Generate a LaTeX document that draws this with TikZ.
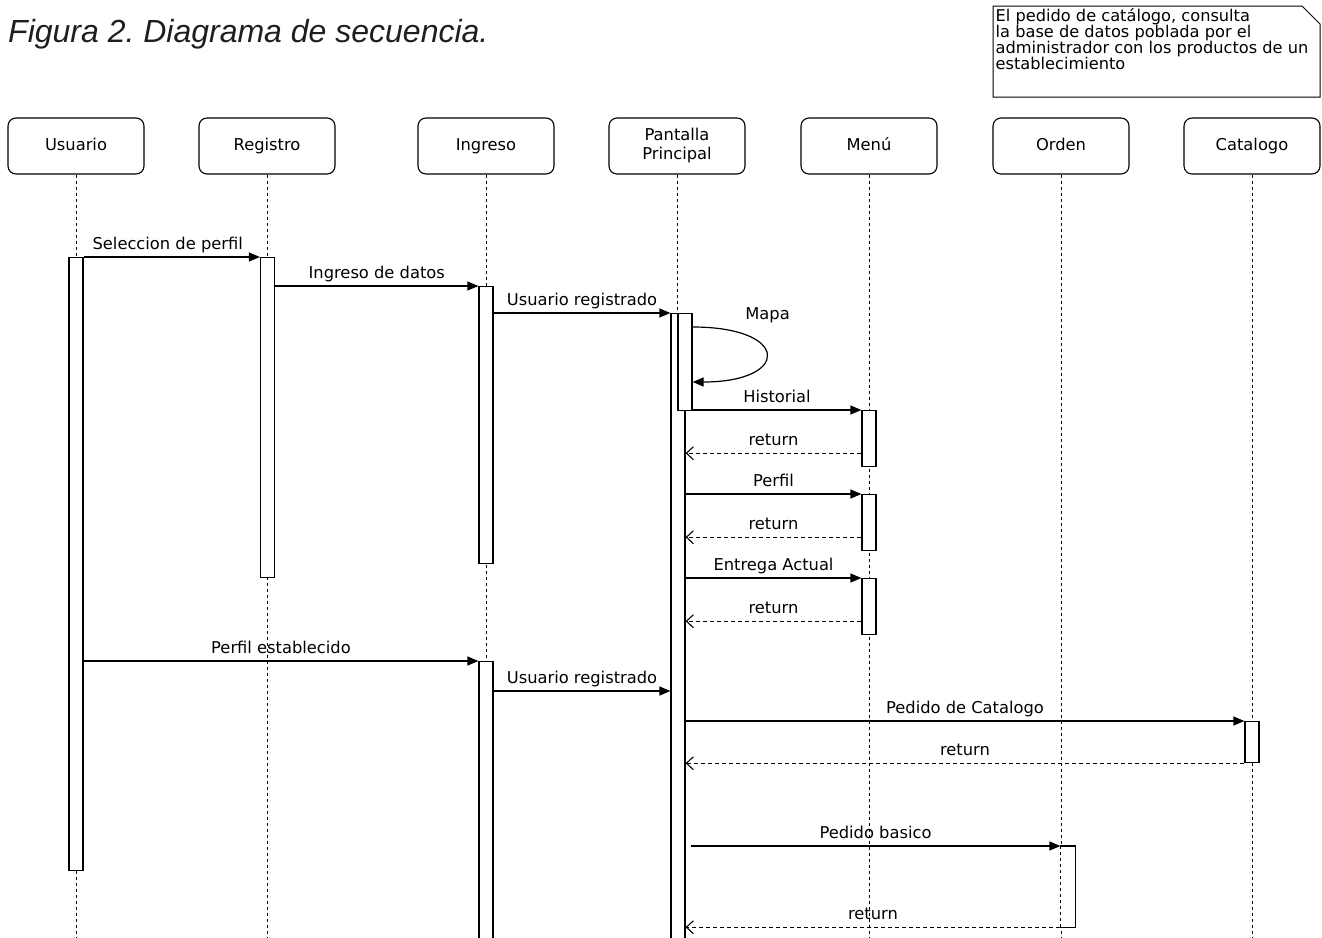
\documentclass[tikz,border=0pt]{standalone}
\usepackage{fontspec}
\setmainfont{DejaVu Sans}
\newfontfamily\titlefont{Liberation Sans}
\usetikzlibrary{arrows.meta,calc}
\frenchspacing

\begin{document}
\begin{tikzpicture}[x=1pt,y=-1pt,
  every node/.style={font=\fontsize{16.3}{19}\selectfont},
  head/.style={draw, rounded corners=8pt, minimum width=136pt, minimum height=56pt,
               line width=1.1pt, align=center, inner sep=0pt},
  onerow/.style={text height=11.5pt, text depth=3.5pt},
  life/.style={dash pattern=on 3pt off 3pt, line width=1pt},
  act/.style={draw, fill=white, minimum width=14pt, inner sep=0pt, line width=1.2pt, anchor=north},
  msg/.style={line width=1.2pt, -{Triangle[length=11pt,width=9pt]}},
  ret/.style={line width=1.1pt, dash pattern=on 4pt off 3pt,
              -{Straight Barb[length=7pt,width=13pt,line width=1.1pt]}},
  lbl/.style={midway, anchor=base, yshift=7.5pt, inner sep=0pt}
]
\useasboundingbox (0,0) rectangle (1322,937);

% title
\node[font=\titlefont\itshape\fontsize{32}{36}\selectfont, text=black!88, anchor=base west, inner sep=0pt]
  (title) at (8,42) {Figura 2. Diagrama de secuencia.};

% comment note with folded corner
\draw[line width=1pt] (993,6) -- (1302,6) -- (1320,24) -- (1320,97) -- (993,97) -- cycle;
\node[anchor=north west, inner sep=0pt, align=left, font=\fontsize{16.2}{15.8}\selectfont]
  (note) at (995.5,8.8) {El pedido de catálogo, consulta\\la base de datos poblada por el\\administrador con los productos de un\\establecimiento};

% participants
\node[head, onerow] (hU) at (76,146)   {Usuario};
\node[head, onerow] (hR) at (267,146)  {Registro};
\node[head, onerow] (hI) at (486,146)  {Ingreso};
\node[head]         (hP) at (677,146)  {Pantalla\\Principal};
\node[head, onerow] (hM) at (869,146)  {Menú};
\node[head, onerow] (hO) at (1061,146) {Orden};
\node[head, onerow] (hC) at (1252,146) {Catalogo};

% lifelines
\coordinate (bot) at (0,940);
\foreach \h in {hU,hR,hI,hP,hM,hO,hC}
  \draw[life] (\h.south) -- (\h.south |- bot);

% activation bars
\node[act, minimum height=613pt] (aU)  at (76,257)    {};
\node[act, minimum height=320pt] (aR)  at (267.5,257) {};
\node[act, minimum height=277pt] (aI1) at (486,286)   {};
\node[act, minimum height=640pt] (aP)  at (678,313)   {};
\node[act, minimum height=97pt]  (aP2) at (685,313)   {};
\node[act, minimum height=56pt]  (aM1) at (869,410)   {};
\node[act, minimum height=56pt]  (aM2) at (869,494)   {};
\node[act, minimum height=56pt]  (aM3) at (869,578)   {};
\node[act, minimum height=290pt] (aI2) at (486,661)   {};
\node[act, minimum height=41pt]  (aC)  at (1252,721)  {};
\node[act, draw=none, minimum height=80pt] (aO) at (1068,846) {};
\draw[line width=1.2pt] (aO.north west) -- (aO.north east) -- (aO.south east) -- (aO.south west);
\draw[life] (aO.north west) -- (aO.south west);

% messages
\draw[msg] (aU.east |- aR.north) -- node[lbl, xshift=-4pt] {Seleccion de perfil} (aR.north west);
\draw[msg] (aR.east |- aI1.north) -- node[lbl] {Ingreso de datos} (aI1.north west);
\draw[msg] (aI1.east |- aP.north) -- node[lbl] {Usuario registrado} (aP.north west);

\coordinate (m1) at ($(aP2.north east)+(0,14)$);
\coordinate (m2) at ($(aP2.north east)+(0,69)$);
\draw[msg] (m1) .. controls +(98,0) and +(98,0) .. (m2)
  node[pos=0, anchor=base, xshift=75pt, yshift=7.5pt, inner sep=0pt] (mapa) {Mapa};

\draw[msg] (aP2.east |- aM1.north) -- node[lbl] {Historial} (aM1.north west);
\coordinate (r1) at ($(aM1.south west)+(0,-14)$);
\draw[ret] (r1) -- node[lbl] {return} (aP.east |- r1);

\draw[msg] (aP.east |- aM2.north) -- node[lbl] {Perfil} (aM2.north west);
\coordinate (r2) at ($(aM2.south west)+(0,-14)$);
\draw[ret] (r2) -- node[lbl] {return} (aP.east |- r2);

\draw[msg] (aP.east |- aM3.north) -- node[lbl] {Entrega Actual} (aM3.north west);
\coordinate (r3) at ($(aM3.south west)+(0,-14)$);
\draw[ret] (r3) -- node[lbl] {return} (aP.east |- r3);

\draw[msg] (aU.east |- aI2.north) -- node[lbl] {Perfil establecido} (aI2.north west);
\coordinate (u2) at ($(aI2.north east)+(0,30)$);
\draw[msg] (u2) -- node[lbl] {Usuario registrado} (aP.west |- u2);

\draw[msg] (aP.east |- aC.north) -- node[lbl] {Pedido de Catalogo} (aC.north west);
\draw[ret] (aC.south west) -- node[lbl] {return} (aP.east |- aC.south);

\coordinate (pb) at ($(aP.east |- aO.north)+(5,0)$);
\draw[msg] (pb) -- node[lbl] {Pedido basico} (aO.north west);
\draw[ret] (aO.south west) -- node[lbl] {return} (aP.east |- aO.south);
\end{tikzpicture}
\end{document}
